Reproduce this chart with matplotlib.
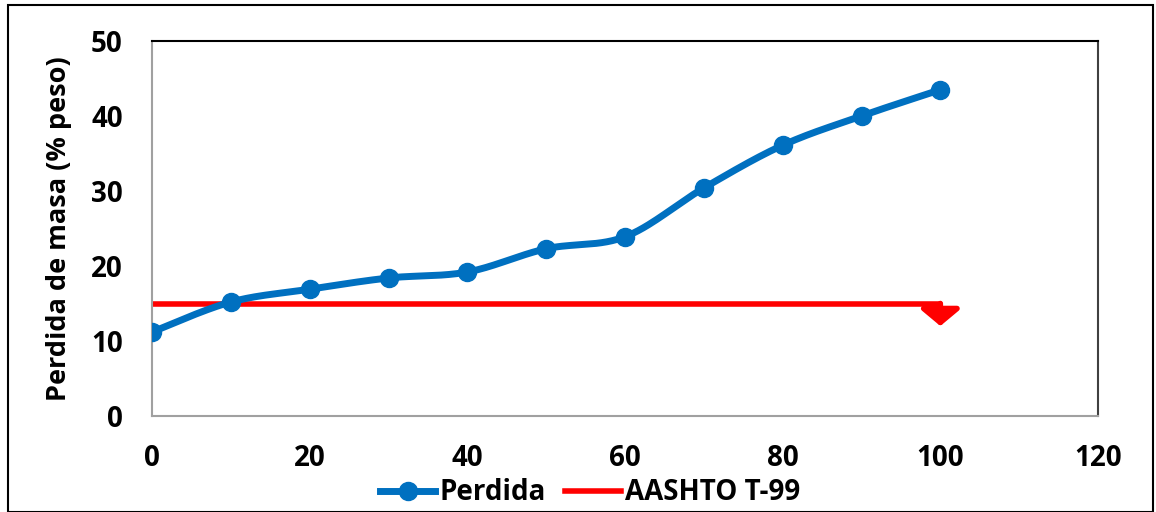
import numpy as np
import matplotlib
matplotlib.use("Agg")
import matplotlib.pyplot as plt
from matplotlib.lines import Line2D
from matplotlib.patches import Rectangle

plt.rcParams['font.family'] = ['Open Sans', 'DejaVu Sans']
plt.rcParams['font.weight'] = 'bold'

x_vals = [0, 10, 20, 30, 40, 50, 60, 70, 80, 90, 100]
perdida = [11.2, 15.2, 16.9, 18.4, 19.2, 22.3, 23.9, 30.4, 36.1, 40.0, 43.5]
aashto_x = [0, 100]
aashto_y = [15, 15]
arrow_end = 12.0
x_ticks = [0, 20, 40, 60, 80, 100, 120]
y_ticks = [0, 10, 20, 30, 40, 50]

def catmull_rom(xs, ys, n=30, tension=0.5):
    xs = np.asarray(xs, float); ys = np.asarray(ys, float)
    px = np.concatenate([[xs[0]], xs, [xs[-1]]])
    py = np.concatenate([[ys[0]], ys, [ys[-1]]])
    ox, oy = [], []
    for i in range(1, len(px) - 2):
        t = np.linspace(0, 1, n, endpoint=False)
        m0x = tension * (px[i+1] - px[i-1]); m1x = tension * (px[i+2] - px[i])
        m0y = tension * (py[i+1] - py[i-1]); m1y = tension * (py[i+2] - py[i])
        h00 = 2*t**3 - 3*t**2 + 1; h10 = t**3 - 2*t**2 + t
        h01 = -2*t**3 + 3*t**2; h11 = t**3 - t**2
        ox.append(h00*px[i] + h10*m0x + h01*px[i+1] + h11*m1x)
        oy.append(h00*py[i] + h10*m0y + h01*py[i+1] + h11*m1y)
    ox.append([xs[-1]]); oy.append([ys[-1]])
    return np.concatenate(ox), np.concatenate(oy)

fig = plt.figure(figsize=(11.56, 5.12), dpi=100)
ax = fig.add_axes([152/1156, 1 - 416/512, (1098-152)/1156, (416-41)/512])

blue = '#0070C0'
sx, sy = catmull_rom(x_vals, perdida)
ax.plot(sx, sy, color=blue, lw=5, solid_capstyle='round', zorder=3)
ax.plot(x_vals, perdida, 'o', color=blue, ms=13, zorder=4)

ax.plot(aashto_x, aashto_y, color='#FF0000', lw=4, solid_capstyle='round', zorder=2)
ax.annotate('', xy=(aashto_x[-1], arrow_end), xytext=(aashto_x[-1], aashto_y[-1]),
            arrowprops=dict(arrowstyle='-|>,head_width=1.2,head_length=1.0',
                            color='#FF0000', lw=4, shrinkA=0, shrinkB=0), zorder=2)

ax.set_xlim(0, 120)
ax.set_ylim(0, 50)
ax.set_xticks(x_ticks)
ax.set_yticks(y_ticks)
ax.tick_params(axis='y', length=0, labelsize=20, pad=21)
ax.tick_params(axis='x', length=0, labelsize=20, pad=20)
for lab in ax.get_xticklabels() + ax.get_yticklabels():
    lab.set_fontweight('bold')
ax.spines['left'].set_color('#A0A0A0')
ax.spines['bottom'].set_color('#A0A0A0')
ax.spines['top'].set_color('black')
ax.spines['right'].set_color('#404040')
for s in ax.spines.values():
    s.set_linewidth(1.5)
ax.set_ylabel('Perdida de masa (% peso)', fontsize=19.5, fontweight='bold', labelpad=14)

handles = [Line2D([0], [0], color=blue, lw=5, marker='o', ms=13),
           Line2D([0], [0], color='#FF0000', lw=4)]
fig.legend(handles, ['Perdida', 'AASHTO T-99'], loc='center', bbox_to_anchor=(590/1156, 1 - 493/512),
           ncol=2, frameon=False, handlelength=2.0, handletextpad=0.15, columnspacing=0.7,
           prop={'weight': 'bold', 'size': 20})

fig.patches.append(Rectangle((8/1156, 0), (1153-8)/1156, 1 - 5/512, transform=fig.transFigure,
                             fill=False, edgecolor='black', lw=1.5))

fig.savefig('out.png', dpi=100)
